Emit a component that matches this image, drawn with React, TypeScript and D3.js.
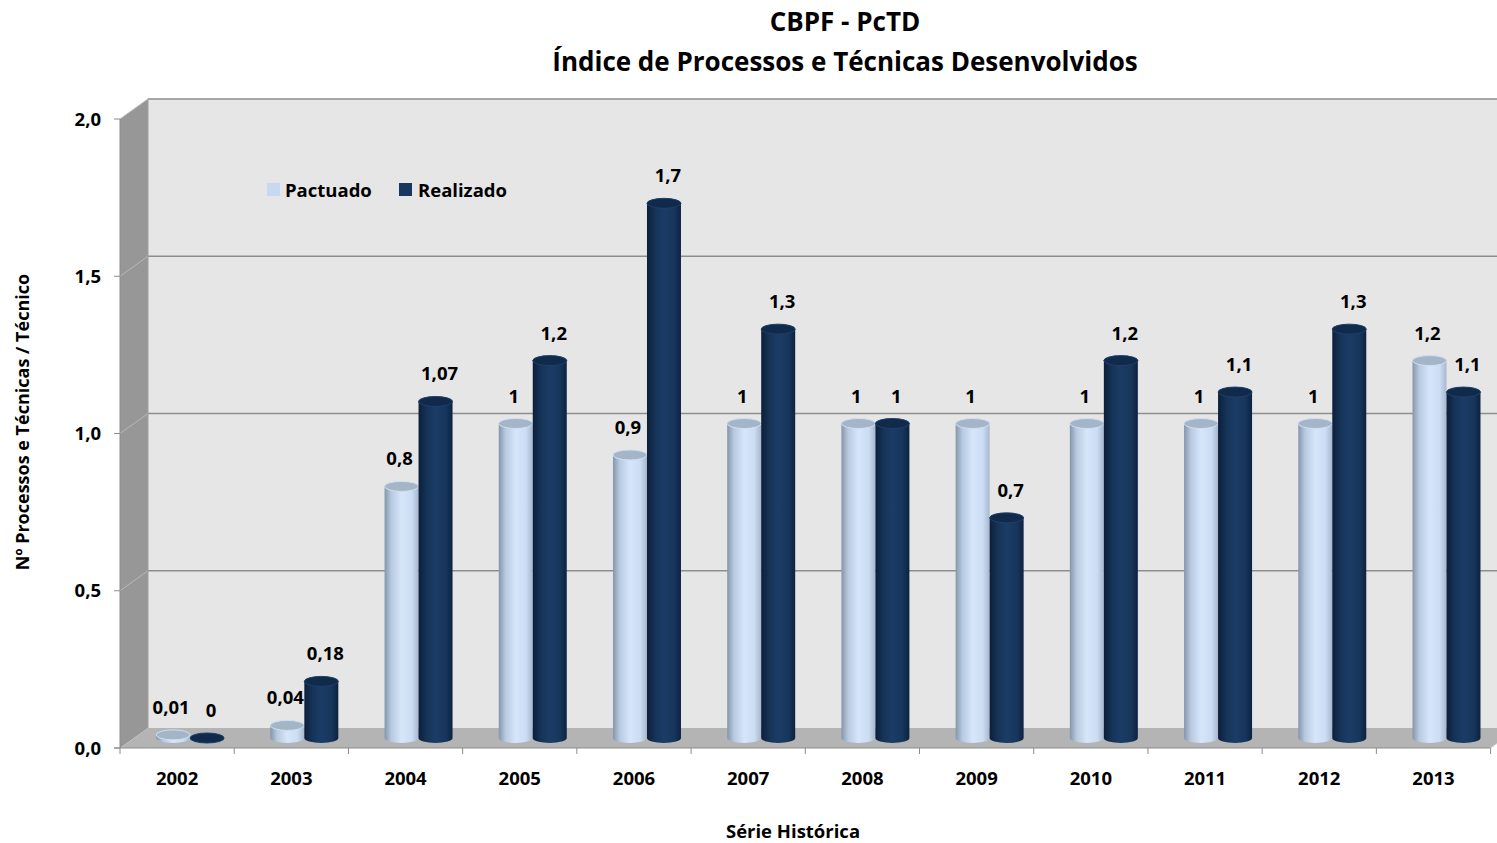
import React from "react";
import * as d3 from "d3";

const years = ["2002","2003","2004","2005","2006","2007","2008","2009","2010","2011","2012","2013"];
const pactuado = [0.01,0.04,0.8,1,0.9,1,1,1,1,1,1,1.2];
const realizado = [0,0.18,1.07,1.2,1.7,1.3,1,0.7,1.2,1.1,1.3,1.1];
const pactuadoLabels = ["0,01","0,04","0,8","1","0,9","1","1","1","1","1","1","1,2"];
const realizadoLabels = ["0","0,18","1,07","1,2","1,7","1,3","1","0,7","1,2","1,1","1,3","1,1"];
const yTicks = [0, 0.5, 1, 1.5, 2];
const seriesNames = ["Pactuado", "Realizado"];

const W = 1497, H = 843;
const FONT = "'Open Sans', 'Noto Sans', sans-serif";
const DX = 28, DY = -20;

export default function App() {
  const x = d3.scaleBand<string>().domain(years).range([120, 1490.6]).padding(0);
  const y = d3.scaleLinear().domain([0, 2]).range([748, 119]);
  const bw = 34;
  const ry = 5;
  const shiftX = 13, shiftY = -10;
  const fmtTick = (v: number) => d3.format(".1f")(v).replace(".", ",");
  const xRight = 1490.6;

  const cyl = (cx0: number, v: number, kind: number, key: string) => {
    const left = kind === 0 ? cx0 - bw : cx0;
    const cx = left + bw / 2;
    const yb = y(0) + shiftY;
    const yt = y(v) + shiftY;
    const grad = kind === 0 ? "url(#gP)" : "url(#gR)";
    const topFill = kind === 0 ? "#a5b5c8" : "#102a4b";
    const topStroke = kind === 0 ? "#cfe0f4" : "#1d3f6a";
    return (
      <g key={key}>
        <path
          d={`M${left},${yt} L${left},${yb} A${bw / 2},${ry} 0 0 0 ${left + bw},${yb} L${left + bw},${yt} Z`}
          fill={grad}
        />
        <ellipse cx={cx} cy={yt} rx={bw / 2} ry={ry} fill={topFill} stroke={topStroke} strokeWidth={1} />
      </g>
    );
  };

  const fs = 18.5;

  return (
    <svg width={W} height={H} viewBox={`0 0 ${W} ${H}`} style={{ display: "block", position: "absolute", left: 0, top: 0 }}>
      <defs>
        <linearGradient id="gP" x1="0" x2="1" y1="0" y2="0">
          <stop offset="0" stopColor="#8596ab" />
          <stop offset="0.2" stopColor="#b8cae0" />
          <stop offset="0.5" stopColor="#d6e6fa" />
          <stop offset="0.8" stopColor="#cbddf3" />
          <stop offset="1" stopColor="#a7b8cd" />
        </linearGradient>
        <linearGradient id="gR" x1="0" x2="1" y1="0" y2="0">
          <stop offset="0" stopColor="#0c1f3a" />
          <stop offset="0.25" stopColor="#163458" />
          <stop offset="0.5" stopColor="#1b3c66" />
          <stop offset="0.8" stopColor="#17365c" />
          <stop offset="1" stopColor="#0d2240" />
        </linearGradient>
      </defs>
      <rect x={0} y={0} width={W} height={H} fill="#ffffff" />
      <rect x={120 + DX} y={y(2) + DY} width={W - 120 - DX} height={y(0) - y(2)} fill="#e6e6e6" />
      <polygon
        points={`120,${y(2)} ${120 + DX},${y(2) + DY} ${120 + DX},${y(0) + DY} 120,${y(0)}`}
        fill="#979797"
      />
      {yTicks.filter(t => t > 0).map(t => (
        <g key={"g" + t}>
          <line x1={120 + DX} x2={W} y1={y(t) + DY} y2={y(t) + DY} stroke="#8e8e8e" strokeWidth={1.5} />
          <line x1={120} x2={120 + DX} y1={y(t)} y2={y(t) + DY} stroke="#b8b8b8" strokeWidth={1} />
        </g>
      ))}
      <polygon
        points={`120,${y(0)} ${120 + DX},${y(0) + DY} ${xRight + DX},${y(0) + DY} ${xRight},${y(0)}`}
        fill="#b4b4b4"
      />
      <line x1={120 + DX} x2={120 + DX} y1={y(2) + DY} y2={y(0) + DY} stroke="#a0a0a0" strokeWidth={1} />
      <line x1={120} x2={120} y1={y(2)} y2={y(0)} stroke="#8c8c8c" strokeWidth={1} />
      {yTicks.map(t => (
        <g key={"yt" + t}>
          <line x1={114} x2={120} y1={y(t)} y2={y(t)} stroke="#8c8c8c" strokeWidth={1} />
          <text x={101} y={y(t)} dy="0.36em" textAnchor="end" fontFamily={FONT} fontWeight={700} fontSize={fs}>{fmtTick(t)}</text>
        </g>
      ))}
      <line x1={114} x2={xRight} y1={y(0)} y2={y(0)} stroke="#8c8c8c" strokeWidth={1} />
      {years.map(yr => (
        <line key={"xt" + yr} x1={x(yr)!} x2={x(yr)!} y1={y(0)} y2={y(0) + 6} stroke="#8c8c8c" strokeWidth={1} />
      ))}
      <line x1={xRight} x2={xRight} y1={y(0)} y2={y(0) + 6} stroke="#8c8c8c" strokeWidth={1} />
      <line x1={xRight} x2={xRight + DX} y1={y(0)} y2={y(0) + DY} stroke="#d0d0d0" strokeWidth={1} />
      {years.map(yr => (
        <text key={"yl" + yr} x={x(yr)! + x.bandwidth() / 2} y={778} dy="0.36em" textAnchor="middle" fontFamily={FONT} fontWeight={700} fontSize={fs}>{yr}</text>
      ))}
      {years.map((yr, i) => {
        const c = x(yr)! + x.bandwidth() / 2 + shiftX;
        return (
          <g key={"b" + yr}>
            {cyl(c, pactuado[i], 0, "p" + yr)}
            {cyl(c, realizado[i], 1, "r" + yr)}
          </g>
        );
      })}
      {years.map((yr, i) => {
        const c = x(yr)! + x.bandwidth() / 2 + shiftX;
        return (
          <g key={"l" + yr}>
            <text x={c - bw / 2 - 2} y={y(pactuado[i]) + shiftY - 21} textAnchor="middle" fontFamily={FONT} fontWeight={700} fontSize={fs}>{pactuadoLabels[i]}</text>
            <text x={c + bw / 2 + 4} y={y(realizado[i]) + shiftY - 21} textAnchor="middle" fontFamily={FONT} fontWeight={700} fontSize={fs}>{realizadoLabels[i]}</text>
          </g>
        );
      })}
      <rect x={267} y={183} width={13} height={13} fill="#c6d9f1" />
      <text x={285} y={197} fontFamily={FONT} fontWeight={700} fontSize={18.5}>{seriesNames[0]}</text>
      <rect x={399} y={183} width={13} height={13} fill="#17375e" />
      <text x={418} y={197} fontFamily={FONT} fontWeight={700} fontSize={18.5}>{seriesNames[1]}</text>
      <text x={845} y={31} textAnchor="middle" fontFamily={FONT} fontWeight={700} fontSize={26}>CBPF - PcTD</text>
      <text x={845} y={71} textAnchor="middle" fontFamily={FONT} fontWeight={700} fontSize={26}>Índice de Processos e Técnicas Desenvolvidos</text>
      <text x={793} y={838} textAnchor="middle" fontFamily={FONT} fontWeight={700} fontSize={18.5}>Série Histórica</text>
      <text transform={`translate(29,422) rotate(-90)`} textAnchor="middle" fontFamily={FONT} fontWeight={700} fontSize={18}>Nº Processos e Técnicas / Técnico</text>
    </svg>
  );
}
